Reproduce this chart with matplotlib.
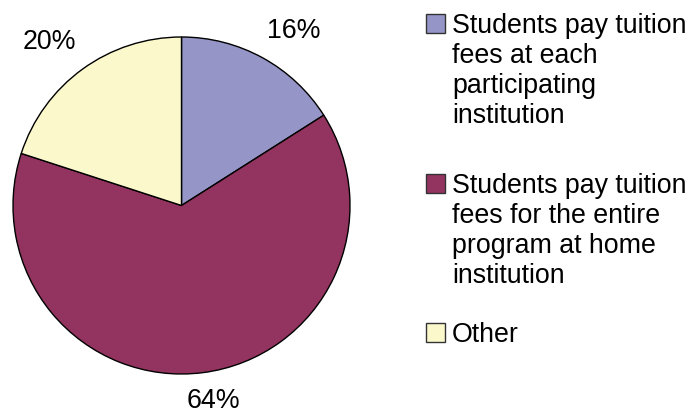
import numpy as np
import matplotlib.pyplot as plt
from matplotlib.patches import Rectangle

labels = ['Students pay tuition\nfees at each\nparticipating\ninstitution',
          'Students pay tuition\nfees for the entire\nprogram at home\ninstitution',
          'Other']
shares = [16, 64, 20]
colors = ['#9595C8', '#933460', '#FBF8CC']

plt.rcParams['font.family'] = ['Liberation Sans', 'DejaVu Sans']

W, H = 695, 413
fig = plt.figure(figsize=(W / 100, H / 100), dpi=100)

# pie box in pixels: left 13, top 37, size 337
ax = fig.add_axes([13 / W, (H - 37 - 337) / H, 337 / W, 337 / H])
wedges, texts, autotexts = ax.pie(shares, colors=colors, startangle=90, counterclock=False,
                                  autopct='%d%%', pctdistance=1.2,
                                  wedgeprops=dict(edgecolor='black', linewidth=1),
                                  textprops=dict(fontsize=19.3, color='black'))
ax.set_xlim(-1, 1)
ax.set_ylim(-1, 1)
ax.axis('off')

# push the percentage labels out like excel does
label_dist = [1.232, 1.176, 1.247]
label_turn = [-4.0, 2.1, 2.9]   # degrees off the wedge middle
for w, t, d, turn in zip(wedges, autotexts, label_dist, label_turn):
    ang = np.deg2rad((w.theta1 + w.theta2) / 2 + turn)
    t.set_position((d * np.cos(ang), d * np.sin(ang)))

# legend drawn by hand so the square sits beside the first line
entry_tops = [13, 173, 322]
for lab, col, top in zip(labels, colors, entry_tops):
    fig.patches.append(Rectangle((426 / W, (H - top - 20) / H), 19 / W, 19 / H,
                                 transform=fig.transFigure, facecolor=col,
                                 edgecolor='#333333', linewidth=1))
    fig.text(452 / W, (H - top) / H, lab, fontsize=19.3, va='top', ha='left',
             linespacing=1.2)

fig.savefig('out.png', dpi=100)
